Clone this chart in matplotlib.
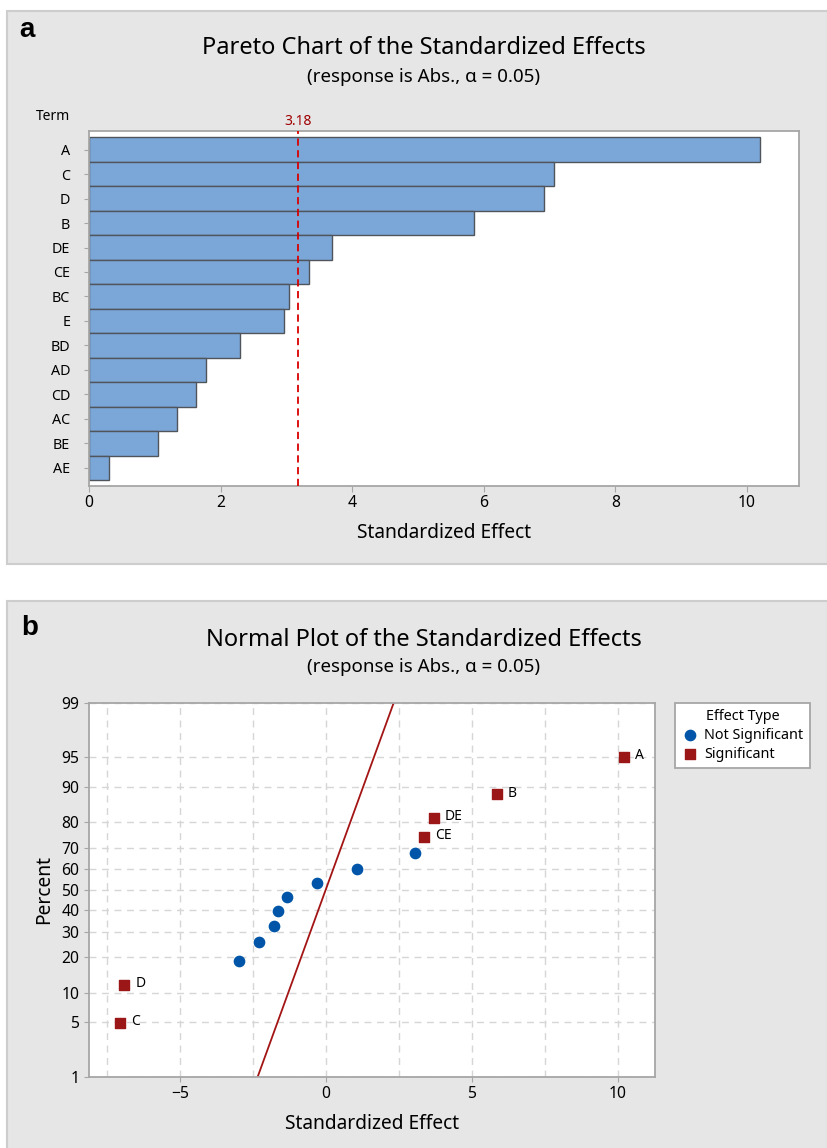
import numpy as np
import matplotlib
matplotlib.use("Agg")
import matplotlib.pyplot as plt
from matplotlib.patches import Rectangle
from statistics import NormalDist

plt.rcParams['font.family'] = ['Noto Sans', 'DejaVu Sans']

# pareto data (sorted by size)
terms = ["A", "C", "D", "B", "DE", "CE", "BC", "E", "BD", "AD", "CD", "AC", "BE", "AE"]
abs_effects = [10.2, 7.06, 6.91, 5.85, 3.69, 3.34, 3.04, 2.97, 2.29, 1.78, 1.63, 1.34, 1.05, 0.31]
crit_value = 3.18

# normal plot data (signed effects, sorted) and plotted percent
np_terms = ["C", "D", "E", "BD", "AD", "CD", "AC", "AE", "BE", "BC", "CE", "DE", "B", "A"]
np_effects = [-7.06, -6.91, -2.97, -2.29, -1.78, -1.63, -1.34, -0.31, 1.05, 3.04, 3.34, 3.69, 5.85, 10.2]
np_percent = [4.9, 11.8, 18.8, 25.7, 32.6, 39.6, 46.5, 53.5, 60.4, 67.4, 74.3, 81.3, 88.2, 95.1]
significant = [True, True, False, False, False, False, False, False, False, False, True, True, True, True]
fit_x = [-2.34, 2.32]
fit_pct = [1, 99]
pct_ticks = [1, 5, 10, 20, 30, 40, 50, 60, 70, 80, 90, 95, 99]

W, H = 828, 1148
fig = plt.figure(figsize=(W / 100, H / 100), dpi=100)
fig.patch.set_facecolor("white")

panel_bg = "#e6e6e6"
panel_edge = "#cdcdcd"
spine_col = "#a6a6a6"

def fx(px):
    return px / W

def fy(py):
    return 1 - py / H

# panel backgrounds
fig.patches.append(Rectangle((fx(7), fy(564)), fx(828 - 7), (564 - 11) / H, transform=fig.transFigure,
                             facecolor=panel_bg, edgecolor=panel_edge, lw=1.5, zorder=-10))
fig.patches.append(Rectangle((fx(7), fy(1150)), fx(828 - 7), (1150 - 601) / H, transform=fig.transFigure,
                             facecolor=panel_bg, edgecolor=panel_edge, lw=1.5, zorder=-10))

fig.text(fx(19), fy(30), "a", fontsize=20, fontweight="bold", family="Liberation Sans", va="center")
fig.text(fx(21), fy(628), "b", fontsize=20, fontweight="bold", family="Liberation Sans", va="center")

title_x = fx(424)

# ---------- panel a: pareto ----------
ax1 = fig.add_axes([fx(89), fy(485.7), fx(799 - 89), (485.7 - 131) / H])
ypos = np.arange(len(terms))
ax1.barh(ypos, abs_effects, height=1.0, color="#7ba7d8", edgecolor="#50555c", linewidth=1.0, zorder=2)
ax1.axvline(crit_value, color="#d90000", ls=(0, (4, 2.5)), lw=1.3, zorder=3)
ax1.set_xlim(0, 10.79)
ax1.set_ylim(13.73, -0.76)
ax1.set_yticks(ypos)
ax1.set_yticklabels(terms, fontsize=10.3)
ax1.set_xticks([0, 2, 4, 6, 8, 10])
ax1.tick_params(axis="x", labelsize=11.3, length=4, color=spine_col, pad=3)
ax1.tick_params(axis="y", length=3.5, color=spine_col, pad=10)
for s in ax1.spines.values():
    s.set_color(spine_col)
    s.set_linewidth(1.3)
ax1.set_xlabel("Standardized Effect", fontsize=13.8, labelpad=8)
ax1.text(crit_value, 1.005, "%.2f" % crit_value, transform=ax1.get_xaxis_transform(),
         ha="center", va="bottom", color="#a00000", fontsize=10)
fig.text(fx(36), fy(117), "Term", fontsize=10, va="center")
fig.text(title_x, fy(48), "Pareto Chart of the Standardized Effects", fontsize=17, ha="center", va="center")
fig.text(title_x, fy(77), "(response is Abs., α = 0.05)", fontsize=13.5, ha="center", va="center")

# ---------- panel b: normal plot ----------
nd = NormalDist()
v_inv_cdf = np.vectorize(nd.inv_cdf, otypes=[float])
v_cdf = np.vectorize(nd.cdf, otypes=[float])

def fwd(p):
    p = np.clip(np.asarray(p, dtype=float) / 100.0, 1e-9, 1 - 1e-9)
    return v_inv_cdf(p)

def inv(z):
    return v_cdf(np.asarray(z, dtype=float)) * 100.0

ax2 = fig.add_axes([fx(89), fy(1076.7), fx(655 - 89), (1076.7 - 702.7) / H])
ax2.set_yscale("function", functions=(fwd, inv))
ax2.set_xlim(-8.12, 11.27)
ax2.set_ylim(1, 99)
ax2.set_yticks(pct_ticks)
ax2.set_yticklabels([str(t) for t in pct_ticks])
ax2.yaxis.set_minor_locator(matplotlib.ticker.NullLocator())
ax2.set_xticks([-5, 0, 5, 10])
ax2.set_xticks([-7.5, -2.5, 2.5, 7.5], minor=True)
ax2.grid(True, which="both", color="#d6d6d6", ls=(0, (5, 4)), lw=1.0, zorder=0)
ax2.tick_params(axis="both", which="major", labelsize=11.3, length=3.5, color=spine_col)
ax2.tick_params(axis="x", which="minor", length=0)
for s in ax2.spines.values():
    s.set_color(spine_col)
    s.set_linewidth(1.3)

ax2.plot(fit_x, fit_pct, color="#a31515", lw=1.3, zorder=2)

ns_x = [x for x, s in zip(np_effects, significant) if not s]
ns_y = [y for y, s in zip(np_percent, significant) if not s]
sg_x = [x for x, s in zip(np_effects, significant) if s]
sg_y = [y for y, s in zip(np_percent, significant) if s]
sg_t = [t for t, s in zip(np_terms, significant) if s]
ax2.scatter(ns_x, ns_y, s=55, marker="o", color="#0055a8", zorder=4, label="Not Significant")
ax2.scatter(sg_x, sg_y, s=50, marker="s", color="#9b1717", zorder=4, label="Significant")
for x, y, t in zip(sg_x, sg_y, sg_t):
    ax2.annotate(t, (x, y), xytext=(8, 1), textcoords="offset points", va="center", fontsize=10)

ax2.set_xlabel("Standardized Effect", fontsize=13.8, labelpad=8)
ax2.set_ylabel("Percent", fontsize=13.8, labelpad=5)

leg = ax2.legend(title="Effect Type", loc="upper left", bbox_to_anchor=(fx(675), fy(703)),
                 bbox_transform=fig.transFigure, fontsize=10.3, title_fontsize=10.3,
                 frameon=True, fancybox=False, handletextpad=0.4, borderpad=0.45,
                 labelspacing=0.25, handlelength=1.2, borderaxespad=0, framealpha=1)
leg.get_frame().set_edgecolor(spine_col)
leg.get_frame().set_linewidth(1.3)

fig.text(title_x, fy(640), "Normal Plot of the Standardized Effects", fontsize=17, ha="center", va="center")
fig.text(title_x, fy(667), "(response is Abs., α = 0.05)", fontsize=13.5, ha="center", va="center")

fig.savefig("out.png", dpi=100)
